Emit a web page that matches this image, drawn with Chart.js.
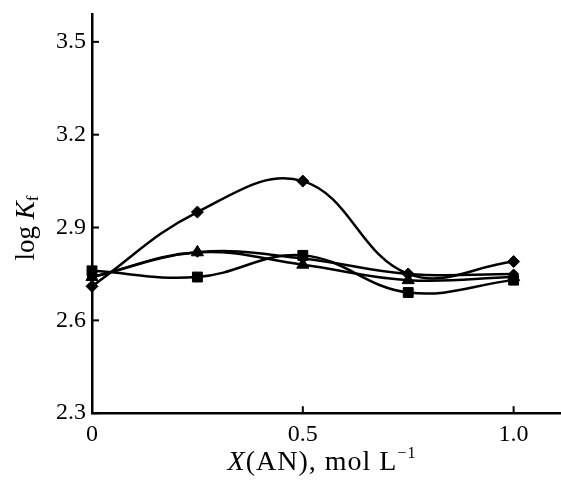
<!DOCTYPE html>
<html>
<head>
<meta charset="utf-8">
<script src="https://cdn.jsdelivr.net/npm/chart.js@4/dist/chart.umd.min.js"></script>
<style>
  html, body { margin: 0; background: #fff; overflow: hidden; }
  #wrap { width: 561px; height: 481px; }
  canvas { display: block; }
</style>
</head>
<body>
<div id="wrap"><canvas id="chart" width="561" height="481"></canvas></div>
<script>
// X(AN) mole fraction values
const xValues = [0, 0.25, 0.5, 0.75, 1.0];
// log Kf series
const peakDiamond = [2.71, 2.95, 3.05, 2.75, 2.79];
const flatDiamond = [2.74, 2.82, 2.80, 2.75, 2.75];
const squares = [2.76, 2.74, 2.81, 2.69, 2.73];
const triangles = [2.74, 2.82, 2.78, 2.73, 2.74];
const xTicks = [0, 0.5, 1.0];
const yTicks = [2.3, 2.6, 2.9, 3.2, 3.5];

const FONT = '"Liberation Serif", "DejaVu Serif", serif';

function toPoints(ys) {
  return xValues.map((x, i) => ({ x: x, y: ys[i] }));
}

function series(ys, style, radius) {
  return {
    data: toPoints(ys),
    borderColor: '#000',
    backgroundColor: '#000',
    borderWidth: 2.5,
    tension: 0.4,
    pointStyle: style,
    pointRadius: radius,
    pointBorderWidth: 1,
    clip: false
  };
}

// draws a label made of pieces with their own font and baseline shift
function drawPieces(ctx, parts, cx, y) {
  let w = 0;
  parts.forEach(p => { ctx.font = p.f; w += ctx.measureText(p.t).width; });
  let x = cx - w / 2;
  parts.forEach(p => {
    ctx.font = p.f;
    ctx.fillText(p.t, x, y + p.dy);
    x += ctx.measureText(p.t).width;
  });
}

// tick marks point into the plot area, like the original figure
const inwardTicks = {
  id: 'inwardTicks',
  afterDraw(chart) {
    const { ctx, chartArea, scales } = chart;
    const len = 7;
    ctx.save();
    ctx.strokeStyle = '#000';
    ctx.lineWidth = 2;
    scales.x.ticks.forEach(t => {
      if (t.value === 0) return;
      const px = scales.x.getPixelForValue(t.value);
      ctx.beginPath();
      ctx.moveTo(px, chartArea.bottom);
      ctx.lineTo(px, chartArea.bottom - len);
      ctx.stroke();
    });
    scales.y.ticks.forEach(t => {
      const py = scales.y.getPixelForValue(t.value);
      ctx.beginPath();
      ctx.moveTo(chartArea.left, py);
      ctx.lineTo(chartArea.left + len, py);
      ctx.stroke();
    });

    ctx.fillStyle = '#000';
    ctx.textBaseline = 'alphabetic';
    ctx.letterSpacing = '1px';
    drawPieces(ctx, [
      { t: 'X', f: 'italic 28px ' + FONT, dy: 0 },
      { t: '(AN), mol L', f: '28px ' + FONT, dy: 0 },
      { t: '\u22121', f: '16px ' + FONT, dy: -12 }
    ], 322, 470);
    ctx.letterSpacing = '0px';

    ctx.translate(34, 228);
    ctx.rotate(-Math.PI / 2);
    drawPieces(ctx, [
      { t: 'log ', f: '27px ' + FONT, dy: 0 },
      { t: 'K', f: 'italic 27px ' + FONT, dy: 0 },
      { t: 'f', f: '17px ' + FONT, dy: 4 }
    ], 0, 0);
    ctx.restore();
  }
};

new Chart(document.getElementById('chart').getContext('2d'), {
  type: 'line',
  data: {
    datasets: [
      series(peakDiamond, 'rectRot', 6),
      series(flatDiamond, 'rectRot', 5),
      series(squares, 'rect', 7),
      series(triangles, 'triangle', 7)
    ]
  },
  options: {
    responsive: false,
    animation: false,
    layout: { autoPadding: false, padding: { left: 50, top: 14, right: 1, bottom: 25 } },
    plugins: { legend: { display: false }, tooltip: { enabled: false } },
    scales: {
      x: {
        type: 'linear',
        min: 0,
        max: 1.11,
        grid: { display: false, drawTicks: false },
        border: { display: true, color: '#000', width: 2.5 },
        afterBuildTicks(scale) { scale.ticks = xTicks.map(v => ({ value: v })); },
        afterFit(scale) { scale.paddingRight = 0; },
        ticks: {
          color: '#000',
          padding: 7,
          maxRotation: 0,
          font: { family: FONT, size: 24 },
          callback: v => (v === 0 ? '0' : v.toFixed(1))
        }
      },
      y: {
        min: 2.3,
        max: 3.59,
        grid: { display: false, drawTicks: false },
        border: { display: true, color: '#000', width: 2.5 },
        afterBuildTicks(scale) { scale.ticks = yTicks.map(v => ({ value: v })); },
        afterFit(scale) { scale.paddingTop = 0; },
        ticks: {
          color: '#000',
          padding: 6,
          font: { family: FONT, size: 24 },
          callback: v => v.toFixed(1)
        }
      }
    }
  },
  plugins: [inwardTicks]
});
</script>
</body>
</html>
